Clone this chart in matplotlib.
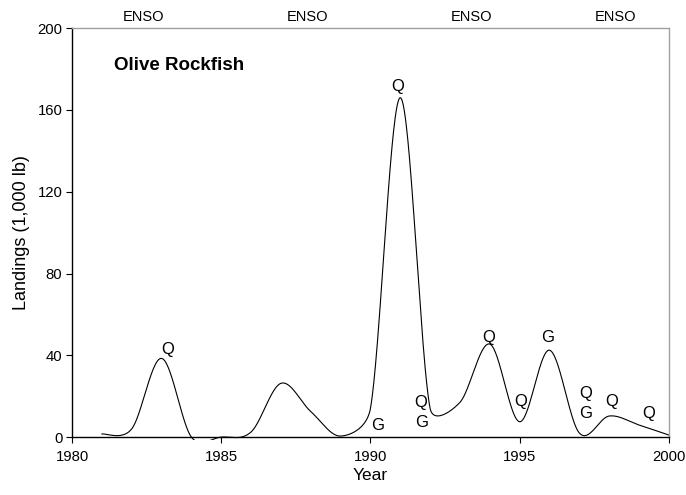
#!/usr/bin/env python3
"""Olive Rockfish landings, 1981-2000, with ENSO years and Q/G annotations."""

import matplotlib

matplotlib.use("Agg")
import matplotlib.pyplot as plt  # noqa: E402
import numpy as np  # noqa: E402
from matplotlib.patches import Rectangle  # noqa: E402

plt.rcParams["font.family"] = ["Liberation Sans", "DejaVu Sans"]

# yearly landings (1,000 lb)
years = [1981, 1982, 1983, 1984, 1985, 1986, 1987, 1988, 1989, 1990,
         1991, 1992, 1993, 1994, 1995, 1996, 1997, 1998, 1999, 2000]
landings = [1.5, 4.0, 38.5, 0.0, 0.0, 2.5, 26.3, 12.5, 0.5, 14.0,
            166.0, 14.0, 17.0, 45.5, 7.5, 42.5, 2.0, 10.3, 5.9, 1.0]

# letter annotations (Q / G) placed on the curve
note_text = ["Q", "Q", "G", "Q", "G", "Q", "Q", "G", "Q", "G", "Q", "Q"]
note_x = [1983.2, 1990.9, 1990.25, 1991.7, 1991.7, 1993.97, 1995.02, 1995.94,
          1997.2, 1997.2, 1998.09, 1999.33]
note_y = [43.0, 171.6, 5.9, 16.8, 7.0, 48.7, 17.6, 48.7, 21.4, 11.6, 17.3, 11.6]

enso_x = [1982.4, 1987.9, 1993.4, 1998.2]


def smoothed_line(x, y, sx=29.85, sy=2.045, n=60):
    """Spreadsheet-style smoothed line: cubic Bezier segments built in screen units."""
    P = np.column_stack([np.asarray(x, float) * sx, np.asarray(y, float) * sy])
    t = np.linspace(0, 1, n)[:, None]
    parts = []
    for i in range(len(P) - 1):
        p1, p2 = P[i], P[i + 1]
        p0 = P[i - 1] if i > 0 else p1
        p3 = P[i + 2] if i + 2 < len(P) else p2
        d12 = np.hypot(*(p2 - p1))
        d02 = np.hypot(*(p2 - p0))
        d13 = np.hypot(*(p3 - p1))
        f1 = 1 / 6 if d02 / 6 < d12 / 2 else d12 / (2 * d02)
        f2 = 1 / 6 if d13 / 6 < d12 / 2 else d12 / (2 * d13)
        b1 = p1 + (p2 - p0) * f1
        b2 = p2 - (p3 - p1) * f2
        seg = (1 - t) ** 3 * p1 + 3 * (1 - t) ** 2 * t * b1 + 3 * (1 - t) * t ** 2 * b2 + t ** 3 * p2
        parts.append(seg if i == 0 else seg[1:])
    pts = np.vstack(parts)
    return pts[:, 0] / sx, pts[:, 1] / sy


fig = plt.figure(figsize=(6.86, 4.95), dpi=100)
ax = fig.add_axes([0.105, 0.117, 0.870, 0.826])

cx, cy = smoothed_line(years, landings)
(line,) = ax.plot(cx, cy, color="black", linewidth=0.8)
clip = Rectangle((0, -0.006), 1, 1.012, transform=ax.transAxes)
line.set_clip_path(clip)

for label, xv, yv in zip(note_text, note_x, note_y):
    ax.text(xv, yv, label, fontsize=12, ha="center", va="center")

for xv in enso_x:
    ax.text(xv, 205.5, "ENSO", fontsize=10.5, ha="center", va="center", clip_on=False)

ax.text(1981.4, 182, "Olive Rockfish", fontsize=13.5, fontweight="bold", ha="left", va="center")

ax.set_xlim(1980, 2000)
ax.set_ylim(0, 200)
ax.set_xticks([1980, 1985, 1990, 1995, 2000])
ax.set_yticks([0, 40, 80, 120, 160, 200])
ax.tick_params(direction="out", length=4, width=0.8, labelsize=10.7, color="black")
ax.tick_params(axis="x", pad=5)
ax.tick_params(axis="y", pad=3)
ax.set_xlabel("Year", fontsize=12.5, labelpad=3)
ax.set_ylabel("Landings (1,000 lb)", fontsize=13, labelpad=5)

for side in ("top", "right"):
    ax.spines[side].set_color("#a0a0a0")
    ax.spines[side].set_linewidth(1.0)
for side in ("left", "bottom"):
    ax.spines[side].set_color("black")
    ax.spines[side].set_linewidth(1.0)

fig.savefig("out.png", dpi=100)
